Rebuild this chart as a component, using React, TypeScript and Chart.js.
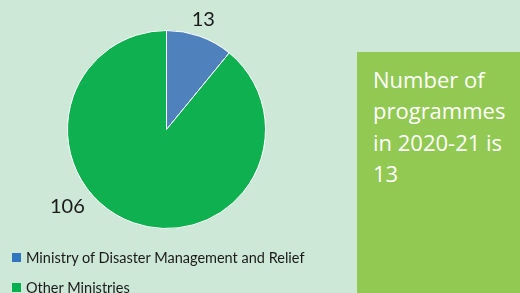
import React, { useEffect, useRef } from "react";
import { Chart, registerables } from "chart.js";

Chart.register(...registerables);

const categories = ["Ministry of Disaster Management and Relief", "Other Ministries"];
const values = [13, 106];
const sliceColors = ["#4f81bd", "#0fb04f"];
const legendColors = ["#2f75c0", "#00b050"];
const labelAngles = [18.5, 232]; // degrees clockwise from top
const labelRadius = [1.17, 1.27];
const boxLines = ["Number of", "programmes", "in 2020-21 is", "13"];

const FONT = "Lato, 'Open Sans', sans-serif";
const BOX_FONT = "'Open Sans', Lato, sans-serif";

const labelPlugin = {
  id: "outLabels",
  afterDatasetsDraw(chart: any) {
    const meta = chart.getDatasetMeta(0);
    const ctx = chart.ctx;
    ctx.save();
    ctx.font = `20px ${FONT}`;
    ctx.fillStyle = "#1a1a1a";
    ctx.textAlign = "center";
    ctx.textBaseline = "middle";
    meta.data.forEach((arc: any, i: number) => {
      const { x, y, outerRadius } = arc.getProps(["x", "y", "outerRadius"], true);
      const a = (labelAngles[i] - 90) * (Math.PI / 180);
      const r = outerRadius * labelRadius[i];
      ctx.fillText(String(values[i]), x + Math.cos(a) * r, y + Math.sin(a) * r);
    });
    ctx.restore();
  },
};

export default function App() {
  const ref = useRef<HTMLCanvasElement>(null);
  useEffect(() => {
    const chart = new Chart(ref.current!, {
      type: "pie",
      data: {
        labels: categories,
        datasets: [
          {
            data: values,
            backgroundColor: sliceColors,
            borderColor: "#ffffff",
            borderWidth: 1,
          },
        ],
      },
      options: {
        animation: false,
        responsive: false,
        layout: { padding: { left: 67, right: 254, top: 30, bottom: 64 } },
        plugins: {
          legend: { display: false },
          tooltip: { enabled: false },
        },
      },
      plugins: [labelPlugin],
    });
    return () => chart.destroy();
  }, []);

  return (
    <div
      style={{
        position: "fixed",
        left: 0,
        top: 0,
        width: 520,
        height: 293,
        background: "#cee8d7",
        overflow: "hidden",
        fontFamily: FONT,
      }}
    >
      <canvas ref={ref} width={520} height={293} style={{ position: "absolute", left: 0, top: 0 }} />
      {categories.map((c, i) => (
        <div
          key={c}
          style={{
            position: "absolute",
            left: 12,
            top: 247 + i * 30,
            height: 20,
            display: "flex",
            alignItems: "center",
            fontSize: 14.5,
            color: "#1a1a1a",
            whiteSpace: "nowrap",
          }}
        >
          <span
            style={{
              display: "inline-block",
              width: 9,
              height: 9,
              background: legendColors[i],
              marginRight: 5,
            }}
          />
          {c}
        </div>
      ))}
      <div
        style={{
          position: "absolute",
          left: 357,
          top: 52,
          width: 163,
          height: 241,
          background: "#92c953",
        }}
      >
        <div
          style={{
            position: "absolute",
            left: 16,
            top: 11.5,
            color: "#ffffff",
            fontFamily: BOX_FONT,
            fontSize: 22,
            lineHeight: "31.5px",
            whiteSpace: "nowrap",
          }}
        >
          {boxLines.map((l) => (
            <div key={l}>{l}</div>
          ))}
        </div>
      </div>
    </div>
  );
}
